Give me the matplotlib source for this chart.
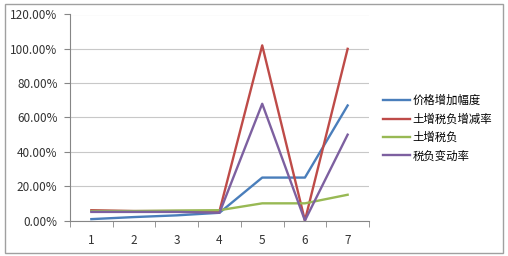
import matplotlib
matplotlib.use('Agg')
import matplotlib.pyplot as plt
from matplotlib.patches import Rectangle
from matplotlib.ticker import FuncFormatter, MultipleLocator
import numpy as np

plt.rcParams['font.family'] = ['Noto Sans CJK SC', 'DejaVu Sans']

categories = [1, 2, 3, 4, 5, 6, 7]
price_growth = [0.8, 2.0, 3.0, 4.5, 25.0, 25.0, 67.0]
tax_burden_change = [6.0, 5.5, 5.5, 5.5, 102.0, 0.0, 100.0]
tax_burden = [5.5, 5.5, 5.8, 6.0, 10.0, 10.0, 15.0]
burden_rate_change = [5.0, 5.0, 5.0, 4.5, 68.0, 0.0, 50.0]

series_names = ['价格增加幅度', '土增税负增减率', '土增税负', '税负变动率']
series_values = [price_growth, tax_burden_change, tax_burden, burden_rate_change]
colors = ['#4A7EBB', '#BE4B48', '#98B954', '#7D60A0']

fig = plt.figure(figsize=(5.08, 2.56), dpi=100)
ax = fig.add_axes([70 / 508, 1 - 220.5 / 256, 299 / 508, 206 / 256])

x = np.arange(1, len(categories) + 1)
for name, vals, c in zip(series_names, series_values, colors):
    ax.plot(x, np.array(vals) / 100, color=c, lw=1.7, label=name)

ax.set_xlim(0.5, len(categories) + 0.5)
ax.set_ylim(0, 1.2)
ax.yaxis.set_major_locator(MultipleLocator(0.2))
ax.yaxis.set_major_formatter(FuncFormatter(lambda v, p: f'{v * 100:.2f}%'))
ax.set_xticks(x)
ax.set_xticklabels([str(c) for c in categories])
ax.set_xticks(np.arange(0.5, len(categories) + 1), minor=True)
ax.tick_params(axis='x', which='major', length=0, pad=10, labelsize=8.5, colors='#333333')
ax.tick_params(axis='x', which='minor', length=4, color='#868686')
ax.tick_params(axis='y', length=4, color='#868686', pad=5, labelsize=8.5, labelcolor='#333333')

ax.grid(axis='y', color='#C8C8C8', lw=0.8)
ax.set_axisbelow(True)
for s in ['top', 'right']:
    ax.spines[s].set_visible(False)
for s in ['left', 'bottom']:
    ax.spines[s].set_color('#868686')
    ax.spines[s].set_linewidth(0.8)

fig.legend(loc='center left', bbox_to_anchor=(383 / 508, 1 - 128 / 256),
           frameon=False, fontsize=8.2, handlelength=2.4, handletextpad=0.2,
           labelspacing=0.62, borderaxespad=0, borderpad=0)

fig.patches.append(Rectangle((5 / 508, 3 / 256), 498 / 508, 249 / 256,
                             transform=fig.transFigure, fill=False,
                             edgecolor='#A0A0A0', lw=1))

fig.savefig('out.png', dpi=100)
